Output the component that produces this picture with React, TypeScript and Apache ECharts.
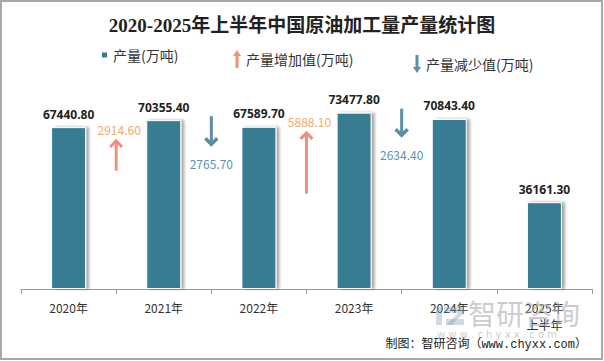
import React, { useEffect, useRef } from "react";
import * as echarts from "echarts";

const categories = ["2020年", "2021年", "2022年", "2023年", "2024年", "2025年\n上半年"];
const outputValues = [67440.8, 70355.4, 67589.7, 73477.8, 70843.4, 36161.3];
const increaseValues = [null, 2914.6, null, 5888.1, null, null];
const decreaseValues = [null, null, 2765.7, null, 2634.4, null];

const SERIES_OUTPUT = "产量(万吨)";
const SERIES_UP = "产量增加值(万吨)";
const SERIES_DOWN = "产量减少值(万吨)";

const BAR_COLOR = "#377C93";
const UP_ARROW = "#F0907A";
const UP_TEXT = "#F4A86E";
const DOWN_ARROW = "#5B8FA6";
const DOWN_TEXT = "#5A94AF";

const ARROW_SCALE = 0.0105;

const UP_ICON = "path://M4,0 L8,6 L5.5,6 L5.5,18 L2.5,18 L2.5,6 L0,6 Z";
const DOWN_ICON = "path://M4,18 L8,12 L5.5,12 L5.5,0 L2.5,0 L2.5,12 L0,12 Z";

const FONT = "'Noto Sans CJK SC', 'Noto Sans', sans-serif";

function makeArrowRender(kind: "up" | "down") {
  return (params: any, api: any) => {
    const idx = api.value(0);
    const v = api.value(1);
    if (v == null || isNaN(v)) return null;
    const band = api.size([1, 0])[0];
    const x = api.coord([idx, 0])[0] - band / 2;
    const prevTop = api.coord([idx - 1, outputValues[idx - 1]])[1];
    const len = v * ARROW_SCALE;
    const label = v.toFixed(2);
    if (kind === "up") {
      const mid = prevTop + 28 + (len - 30) * 0.25;
      const top = mid - len / 2;
      const bottom = mid + len / 2;
      return {
        type: "group",
        children: [
          { type: "line", shape: { x1: x, y1: bottom, x2: x, y2: top + 2 }, style: { stroke: UP_ARROW, lineWidth: 3 } },
          { type: "polyline", shape: { points: [[x - 6, top + 7], [x, top + 1], [x + 6, top + 7]] }, style: { stroke: UP_ARROW, lineWidth: 3, fill: null } },
          { type: "text", style: { x: x + 3, y: top - 10, text: label, fill: UP_TEXT, font: `12px ${FONT}`, align: "center", verticalAlign: "middle" } },
        ],
      };
    } else {
      const top = prevTop - 4;
      const bottom = top + len;
      return {
        type: "group",
        children: [
          { type: "line", shape: { x1: x, y1: top, x2: x, y2: bottom - 2 }, style: { stroke: DOWN_ARROW, lineWidth: 3 } },
          { type: "polyline", shape: { points: [[x - 6, bottom - 7], [x, bottom - 1], [x + 6, bottom - 7]] }, style: { stroke: DOWN_ARROW, lineWidth: 3.5, fill: null } },
          { type: "text", style: { x: x, y: bottom + 18, text: label, fill: DOWN_TEXT, font: `12px ${FONT}`, align: "center", verticalAlign: "middle" } },
        ],
      };
    }
  };
}

export default function App() {
  const ref = useRef<HTMLDivElement>(null);
  useEffect(() => {
    if (!ref.current) return;
    const chart = echarts.init(ref.current, null, { renderer: "svg" });
    const upData = increaseValues.map((v, i) => (v == null ? null : [i, v])).filter((d) => d) as number[][];
    const downData = decreaseValues.map((v, i) => (v == null ? null : [i, v])).filter((d) => d) as number[][];
    chart.setOption({
      animation: false,
      backgroundColor: "#fff",
      title: {
        text: "2020-2025年上半年中国原油加工量产量统计图",
        left: "center",
        top: 11,
        textStyle: { fontSize: 19, fontWeight: "bold", color: "#222", fontFamily: "'Liberation Serif', 'Noto Sans CJK SC', serif" },
      },
      legend: [
        {
          data: [{ name: SERIES_OUTPUT, icon: "rect" }],
          left: 95, top: 43, itemWidth: 7, itemHeight: 7, itemGap: 4,
          textStyle: { fontSize: 14, color: "#333", fontFamily: FONT },
          selectedMode: false,
        },
        {
          data: [{ name: SERIES_UP, icon: UP_ICON, itemStyle: { color: UP_ARROW } }],
          left: 228, top: 45, itemWidth: 8, itemHeight: 19, itemGap: 4,
          textStyle: { fontSize: 14, color: "#333", fontFamily: FONT },
          selectedMode: false,
        },
        {
          data: [{ name: SERIES_DOWN, icon: DOWN_ICON, itemStyle: { color: DOWN_ARROW } }],
          left: 408, top: 50, itemWidth: 8, itemHeight: 19, itemGap: 4,
          textStyle: { fontSize: 14, color: "#333", fontFamily: FONT },
          selectedMode: false,
        },
      ],
      grid: { left: 21, right: 12, top: 97, bottom: 72 },
      xAxis: {
        type: "category",
        data: categories,
        axisLine: { lineStyle: { color: "#9a9a9a" } },
        axisTick: { show: true, length: 5, lineStyle: { color: "#9a9a9a" } },
        axisLabel: { interval: 0, color: "#333", fontSize: 12, margin: 10, lineHeight: 17, fontFamily: FONT },
      },
      yAxis: { type: "value", min: 0, max: 80000, show: false, splitLine: { show: false } },
      series: [
        {
          name: SERIES_OUTPUT,
          type: "bar",
          data: outputValues,
          barWidth: 35,
          itemStyle: {
            color: BAR_COLOR,
            borderColor: "#fff",
            borderWidth: 1,
            shadowColor: "rgba(0,0,0,0.35)",
            shadowBlur: 3,
            shadowOffsetX: 3,
            shadowOffsetY: 0,
          },
          label: {
            show: true,
            position: "top",
            distance: 7,
            formatter: (p: any) => p.value.toFixed(2),
            fontSize: 12,
            fontWeight: "bold",
            color: "#222",
            fontFamily: "'Noto Sans', sans-serif",
          },
        },
        {
          name: SERIES_UP,
          type: "custom",
          data: upData,
          itemStyle: { color: UP_ARROW },
          renderItem: makeArrowRender("up"),
          z: 5,
        },
        {
          name: SERIES_DOWN,
          type: "custom",
          data: downData,
          itemStyle: { color: DOWN_ARROW },
          renderItem: makeArrowRender("down"),
          z: 5,
        },
      ],
      graphic: [
        { type: "rect", shape: { x: 1, y: 1, width: 601, height: 358 }, style: { stroke: "#a8a8a8", lineWidth: 2, fill: null }, z: 100 },
        { type: "rect", shape: { x: 436, y: 307, width: 6, height: 18 }, style: { fill: "rgba(120,150,185,0.35)" }, z: 1 },
        { type: "rect", shape: { x: 444, y: 307, width: 20, height: 6 }, style: { fill: "rgba(120,150,185,0.35)" }, z: 1 },
        { type: "polygon", shape: { points: [[458, 313], [464, 313], [452, 325], [446, 325]] }, style: { fill: "rgba(120,150,185,0.35)" }, z: 1 },
        { type: "rect", shape: { x: 446, y: 319, width: 18, height: 6 }, style: { fill: "rgba(120,150,185,0.35)" }, z: 1 },
        { type: "text", left: 468, top: 299, style: { text: "智研咨询", fill: "rgba(170,170,170,0.6)", font: `28px ${FONT}` }, z: 1 },
        { type: "text", left: 437, top: 329, style: { text: "w w w . c h y x x . c o m", fill: "rgba(170,170,170,0.6)", font: `10px 'DejaVu Sans', sans-serif` }, z: 1 },
        { type: "text", right: 17, top: 339, style: { text: "制图：智研咨询（www.chyxx.com）", fill: "#222", font: `12px 'Liberation Mono', 'Noto Sans CJK SC', monospace` }, z: 10 },
      ],
    });
    return () => chart.dispose();
  }, []);
  return <div ref={ref} style={{ position: "absolute", left: 0, top: 0, width: 604, height: 361 }} />;
}
